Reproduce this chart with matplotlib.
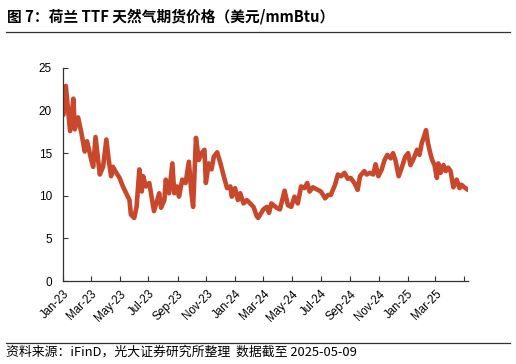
import matplotlib
matplotlib.use("Agg")
import matplotlib.pyplot as plt
import pandas as pd
from matplotlib.lines import Line2D

plt.rcParams['font.family'] = ['Noto Sans CJK SC', 'DejaVu Sans']

dates = [
    "2023-01-02", "2023-01-07", "2023-01-12", "2023-01-16", "2023-01-23", "2023-01-26",
    "2023-02-02", "2023-02-06", "2023-02-09", "2023-02-16", "2023-02-21", "2023-03-02",
    "2023-03-06", "2023-03-11", "2023-03-16", "2023-03-20", "2023-03-27", "2023-04-03",
    "2023-04-08", "2023-04-13", "2023-04-17", "2023-04-24", "2023-05-01", "2023-05-08",
    "2023-05-15", "2023-05-22", "2023-05-25", "2023-06-01", "2023-06-06", "2023-06-12",
    "2023-06-17", "2023-06-20", "2023-06-26", "2023-07-03", "2023-07-09", "2023-07-13",
    "2023-07-20", "2023-07-24", "2023-07-28", "2023-08-04", "2023-08-07", "2023-08-14",
    "2023-08-21", "2023-08-25", "2023-08-31", "2023-09-04", "2023-09-11", "2023-09-18",
    "2023-09-25", "2023-09-30", "2023-10-04", "2023-10-10", "2023-10-16", "2023-10-22",
    "2023-10-28", "2023-10-31", "2023-11-06", "2023-11-12", "2023-11-17", "2023-11-24",
    "2023-12-01", "2023-12-08", "2023-12-15", "2023-12-22", "2023-12-25", "2024-01-01",
    "2024-01-07", "2024-01-12", "2024-01-19", "2024-01-26", "2024-02-02", "2024-02-09",
    "2024-02-16", "2024-02-19", "2024-03-01", "2024-03-08", "2024-03-13", "2024-03-18",
    "2024-03-29", "2024-04-05", "2024-04-15", "2024-04-22", "2024-04-29", "2024-05-06",
    "2024-05-13", "2024-05-20", "2024-05-27", "2024-06-02", "2024-06-07", "2024-06-14",
    "2024-06-24", "2024-07-01", "2024-07-10", "2024-07-16", "2024-07-22", "2024-07-31",
    "2024-08-06", "2024-08-13", "2024-08-20", "2024-08-27", "2024-09-02", "2024-09-10",
    "2024-09-17", "2024-09-22", "2024-10-01", "2024-10-06", "2024-10-13", "2024-10-20",
    "2024-10-25", "2024-10-31", "2024-11-07", "2024-11-13", "2024-11-19", "2024-11-26",
    "2024-12-01", "2024-12-06", "2024-12-13", "2024-12-20", "2024-12-27", "2025-01-02",
    "2025-01-07", "2025-01-14", "2025-01-21", "2025-01-26", "2025-01-31", "2025-02-05",
    "2025-02-09", "2025-02-13", "2025-02-18", "2025-02-22", "2025-02-27", "2025-03-04",
    "2025-03-07", "2025-03-12", "2025-03-18", "2025-03-23", "2025-03-28", "2025-04-02",
    "2025-04-08", "2025-04-15", "2025-04-21", "2025-04-25", "2025-05-01", "2025-05-09",
]
prices = [
    19.5, 22.9, 20.0, 17.6, 21.4, 17.8,
    19.2, 18.2, 17.4, 15.2, 16.4, 14.2,
    13.4, 16.9, 14.5, 12.5, 13.4, 16.6,
    14.2, 12.3, 13.4, 12.7, 12.1, 11.1,
    10.3, 9.5, 7.8, 7.4, 8.7, 13.1,
    10.5, 12.3, 11.1, 11.5, 9.5, 8.2,
    9.5, 10.3, 8.6, 9.5, 11.9, 10.3,
    13.8, 10.3, 11.1, 9.9, 11.9, 11.5,
    14.0, 10.5, 8.7, 16.8, 14.2, 15.0,
    15.4, 11.5, 13.8, 13.1, 14.6, 15.1,
    13.8, 12.3, 10.9, 11.1, 9.9, 10.9,
    9.5, 10.3, 9.1, 9.5, 9.1, 8.7,
    7.6, 7.4, 8.4, 8.7, 8.0, 9.1,
    8.6, 8.4, 10.6, 8.9, 8.7, 9.9,
    9.1, 11.1, 10.9, 11.5, 10.5, 11.0,
    10.7, 10.5, 9.7, 10.1, 10.1, 11.3,
    12.5, 12.3, 12.7, 12.0, 12.1, 11.5,
    10.7, 12.3, 12.9, 12.5, 12.7, 12.5,
    13.7, 12.3, 13.1, 14.2, 14.8, 14.4,
    15.0, 14.2, 12.3, 13.4, 14.6, 15.0,
    13.6, 14.4, 15.4, 14.8, 16.2, 17.0,
    17.7, 16.2, 15.0, 14.2, 13.6, 12.1,
    13.8, 12.7, 13.6, 12.9, 13.3, 12.9,
    11.0, 11.9, 10.9, 11.3, 11.0, 10.7,
]

tick_dates = ["2023-01-01", "2023-03-01", "2023-05-01", "2023-07-01", "2023-09-01",
              "2023-11-01", "2024-01-01", "2024-03-01", "2024-05-01", "2024-07-01",
              "2024-09-01", "2024-11-01", "2025-01-01", "2025-03-01", "2025-05-01"]
tick_labels = ["Jan-23", "Mar-23", "May-23", "Jul-23", "Sep-23", "Nov-23", "Jan-24",
               "Mar-24", "May-24", "Jul-24", "Sep-24", "Nov-24", "Jan-25", "Mar-25", ""]
y_ticks = [0, 5, 10, 15, 20, 25]

title = "图 7：荷兰 TTF 天然气期货价格（美元/mmBtu）"
source = "资料来源：iFinD，光大证券研究所整理  数据截至 2025-05-09"

x = pd.to_datetime(dates)
fig = plt.figure(figsize=(5.16, 3.64), dpi=100)
ax = fig.add_axes([63/516, 1-281/364, (468-63)/516, (281-68)/364])
ax.plot(x, prices, color="#C9472A", lw=3.3, solid_joinstyle="round", solid_capstyle="round")

ax.set_ylim(0, 25)
ax.set_yticks(y_ticks)
ax.set_xlim(pd.Timestamp("2023-01-01"), pd.Timestamp("2025-05-09"))
ax.set_xticks(pd.to_datetime(tick_dates))
ax.set_xticklabels(tick_labels, rotation=45, ha="right", rotation_mode="anchor",
                   family=["Liberation Sans", "DejaVu Sans"], fontsize=8.3)
for lab in ax.get_yticklabels():
    lab.set_family(["Liberation Sans", "DejaVu Sans"])
    lab.set_fontsize(8.5)
ax.tick_params(direction="in", length=3.5, width=0.8, color="#333333", pad=5)
ax.tick_params(axis="y", pad=8)
for s in ["top", "right"]:
    ax.spines[s].set_visible(False)
for s in ["left", "bottom"]:
    ax.spines[s].set_color("#333333")
    ax.spines[s].set_linewidth(0.9)

fig.text(7/516, 1-16/364, title, fontsize=10.6, fontweight="bold", va="center", ha="left")
fig.add_artist(Line2D([6/516, 510/516], [1-31.5/364, 1-31.5/364], color="#333333", lw=0.9))
fig.add_artist(Line2D([6/516, 510/516], [1-343/364, 1-343/364], color="#333333", lw=0.9))
fig.text(6/516, 1-352.5/364, source, fontsize=9.3, va="center", ha="left")

fig.savefig("out.png", dpi=100)
